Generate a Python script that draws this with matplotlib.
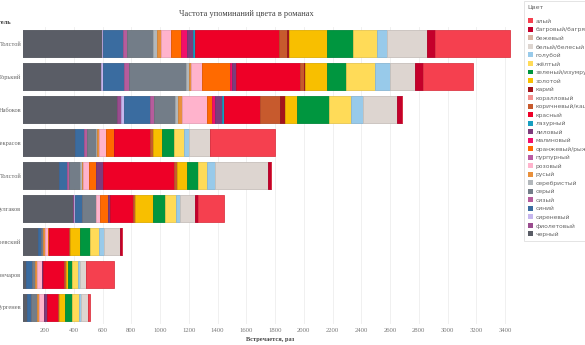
import matplotlib

matplotlib.use('Agg')
import matplotlib.pyplot as plt
import numpy as np
from matplotlib.colors import to_rgb
from matplotlib.patches import Patch

# writers, top to bottom
writers = ['Толстой', 'Горький', 'Набоков', 'Некрасов', 'Толстой',
           'Булгаков', 'Достоевский', 'Гончаров', 'Тургенев']

# colour words in legend (alphabetical) order
color_names = ['алый', 'багровый/багряный', 'бежевый', 'белый/белесый', 'голубой',
               'жёлтый', 'зеленый/изумрудный', 'золотой', 'карий', 'коралловый',
               'коричневый/каштановый', 'красный', 'лазурный', 'лиловый', 'малиновый',
               'оранжевый/рыжий', 'пурпурный', 'розовый', 'русый', 'серебристый',
               'серый', 'сизый', 'синий', 'сиреневый', 'фиолетовый', 'черный']

palette = ['#F5404F', '#C4002B', '#D9B5A3', '#DDD5D0', '#98CAEA',
           '#FFDB58', '#00963F', '#F8BF00', '#A3141C', '#F4918F',
           '#C75A2D', '#EE0027', '#179EC0', '#7D3C7C', '#F20F6A',
           '#FF6A00', '#BB5CA3', '#FFB3CC', '#E8903C', '#B2B7BB',
           '#737D88', '#B65C9C', '#3A6CA0', '#C6B6EE', '#9A4C8E', '#5A5D66']

# mentions per colour, same order as color_names
tolstoy_ln = [522, 58, 0, 274, 70, 167, 185, 260, 18, 0, 54, 582, 14, 42, 42,
              72, 0, 67, 28, 32, 177, 32, 135, 7, 0, 598]
gorky = [348, 56, 0, 169, 111, 197, 132, 155, 7, 0, 30, 440, 0, 32, 9,
         197, 0, 79, 14, 16, 403, 32, 148, 12, 0, 589]
nabokov = [0, 37, 0, 237, 81, 158, 216, 86, 35, 0, 139, 248, 16, 51, 19,
           32, 0, 176, 28, 21, 146, 28, 179, 26, 23, 703]
nekrasov = [452, 0, 0, 146, 35, 72, 81, 65, 0, 0, 20, 248, 0, 0, 0,
            60, 0, 44, 16, 9, 63, 19, 63, 0, 0, 408]
tolstoy_an = [0, 21, 0, 366, 53, 67, 77, 70, 0, 0, 19, 496, 0, 42, 0,
              53, 0, 40, 10, 12, 74, 14, 56, 0, 0, 299]
bulgakov = [181, 23, 0, 102, 30, 77, 86, 123, 0, 0, 16, 158, 0, 16, 0,
            51, 0, 30, 0, 0, 97, 0, 46, 7, 7, 397]
dostoevsky = [0, 14, 0, 111, 32, 63, 70, 70, 0, 0, 7, 139, 0, 0, 0,
              12, 0, 16, 14, 0, 19, 0, 16, 0, 0, 153]
goncharov = [193, 0, 0, 40, 16, 37, 28, 19, 0, 0, 9, 146, 0, 12, 0,
             0, 0, 35, 12, 0, 23, 0, 42, 0, 0, 65]
turgenev = [12, 0, 0, 51, 14, 46, 51, 40, 0, 0, 7, 81, 0, 19, 0,
            0, 0, 35, 12, 0, 46, 0, 23, 0, 0, 77]

values = np.array([tolstoy_ln, gorky, nabokov, nekrasov, tolstoy_an,
                   bulgakov, dostoevsky, goncharov, turgenev], dtype=float)

x_ticks = list(range(200, 3600, 200))

SERIF = 'Liberation Serif'

fig = plt.figure(figsize=(5.85, 3.45), dpi=100)
ax = fig.add_axes([23 / 585, 1 - 324 / 345, 495 / 585, 297 / 345])

y = np.arange(len(writers))
left = np.zeros(len(writers))
# stacked in reverse alphabetical order: черный first, алый last
for i in reversed(range(len(color_names))):
    edge = tuple(c * 0.9 for c in to_rgb(palette[i]))
    ax.barh(y, values[:, i], left=left, height=0.79, color=palette[i],
            edgecolor=edge, linewidth=0.6, zorder=2)
    left += values[:, i]

ax.set_xlim(47, 3490)
ax.set_ylim(len(writers) - 0.5, -0.5)
ax.set_xticks(x_ticks)
ax.set_xticklabels([str(t) for t in x_ticks], fontsize=4.8, color='#777777',
                   family=SERIF)
ax.set_yticks(y)
ax.set_yticklabels(writers, fontsize=4.6, color='#666666', family=SERIF)
ax.tick_params(axis='y', length=0, pad=1.2)
ax.tick_params(axis='x', length=0, pad=3)
ax.grid(axis='x', color='#EEEEEE', linewidth=0.6, zorder=0)
for sp in ax.spines.values():
    sp.set_visible(False)

fig.text(246 / 585, 1 - 14 / 345, 'Частота упоминаний цвета в романах',
         ha='center', va='center', fontsize=6, color='#444444', family=SERIF)
fig.text(270 / 585, 1 - 339 / 345, 'Встречается, раз', ha='center', va='center',
         fontsize=4.6, color='#444444', family=SERIF, weight='bold')
fig.text(12 / 585, 1 - 23 / 345, 'Писатель', ha='right', va='center',
         fontsize=4.6, color='#333333', family=SERIF, weight='bold')

handles = [Patch(facecolor=palette[i], edgecolor='none') for i in range(len(color_names))]
leg = fig.legend(handles, color_names, loc='upper left',
                 bbox_to_anchor=(524 / 585, 1 - 1 / 345), frameon=True,
                 fancybox=False, fontsize=4.3, title='Цвет\n', title_fontsize=4.5,
                 alignment='left', handlelength=0.9, handleheight=0.9,
                 handletextpad=0.5, labelspacing=0.5, borderpad=0.6,
                 borderaxespad=0)
leg.get_frame().set_edgecolor('#D8D8D8')
leg.get_frame().set_linewidth(0.6)
for t in leg.get_texts():
    t.set_color('#666666')
leg.get_title().set_color('#666666')

fig.savefig('out.png', dpi=100)
